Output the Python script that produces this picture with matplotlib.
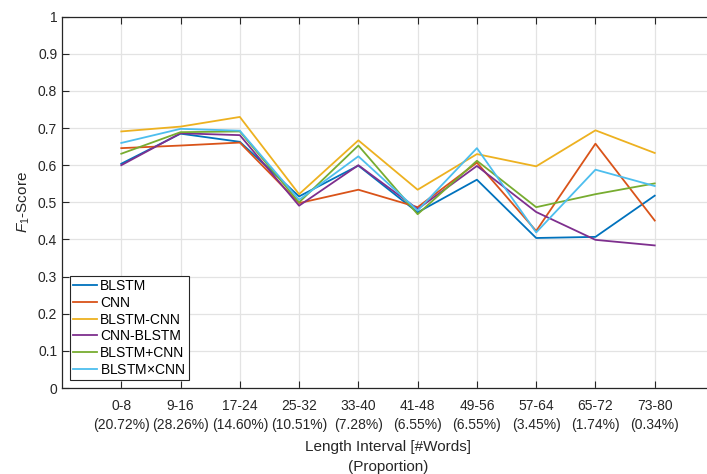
import numpy as np
import matplotlib
matplotlib.use("Agg")
import matplotlib.pyplot as plt

plt.rcParams['font.family'] = ['Liberation Sans', 'DejaVu Sans']
plt.rcParams['mathtext.fontset'] = 'custom'
plt.rcParams['mathtext.it'] = 'Liberation Sans:italic'
plt.rcParams['mathtext.rm'] = 'Liberation Sans'

intervals = ["0-8", "9-16", "17-24", "25-32", "33-40", "41-48", "49-56", "57-64", "65-72", "73-80"]
proportions = ["(20.72%)", "(28.26%)", "(14.60%)", "(10.51%)", "(7.28%)",
               "(6.55%)", "(6.55%)", "(3.45%)", "(1.74%)", "(0.34%)"]

blstm      = [0.604, 0.685, 0.663, 0.516, 0.599, 0.473, 0.561, 0.404, 0.407, 0.518]
cnn        = [0.646, 0.653, 0.661, 0.498, 0.534, 0.487, 0.607, 0.423, 0.658, 0.451]
blstm_cnn  = [0.691, 0.704, 0.730, 0.522, 0.667, 0.534, 0.630, 0.597, 0.694, 0.633]
cnn_blstm  = [0.600, 0.686, 0.681, 0.491, 0.600, 0.482, 0.598, 0.474, 0.399, 0.384]
blstm_plus = [0.631, 0.689, 0.691, 0.500, 0.653, 0.468, 0.612, 0.487, 0.522, 0.551]
blstm_x    = [0.660, 0.698, 0.693, 0.507, 0.624, 0.478, 0.646, 0.419, 0.588, 0.544]

series = [
    ("BLSTM", blstm, "#0072BD"),
    ("CNN", cnn, "#D95319"),
    ("BLSTM-CNN", blstm_cnn, "#EDB120"),
    ("CNN-BLSTM", cnn_blstm, "#7E2F8E"),
    ("BLSTM+CNN", blstm_plus, "#77AC30"),
    ("BLSTM$\\times$CNN", blstm_x, "#4DBEEE"),
]

x = np.arange(1, len(intervals) + 1)

fig = plt.figure(figsize=(7.07, 4.74), dpi=100)
ax = fig.add_axes([62 / 707, 86 / 474, (714 - 62) / 707, (388 - 16.7) / 474])

for label, vals, col in series:
    ax.plot(x, vals, color=col, linewidth=1.3, label=label)

ax.set_xlim(0, 11)
ax.set_ylim(0, 1)
ax.set_xticks(x)
ax.set_xticklabels([f"{a}\n{b}" for a, b in zip(intervals, proportions)], linespacing=1.45)
ax.set_yticks(np.arange(0, 1.01, 0.1))
ax.set_yticklabels(["0", "0.1", "0.2", "0.3", "0.4", "0.5", "0.6", "0.7", "0.8", "0.9", "1"])
ax.tick_params(axis="both", direction="in", length=5, width=0.8, colors="#262626",
               labelsize=10, labelcolor="#262626", top=True, right=False)
ax.tick_params(axis="x", pad=8)
ax.grid(True, color="#E3E3E3", linewidth=0.9)
ax.set_axisbelow(True)
for s in ["left", "bottom", "top"]:
    ax.spines[s].set_color("#262626")
    ax.spines[s].set_linewidth(0.9)
ax.spines["right"].set_visible(False)

ax.set_xlabel("Length Interval [#Words]\n(Proportion)", fontsize=11, color="#262626",
              linespacing=1.5, labelpad=6)
ax.set_ylabel("$F_1$-Score", fontsize=11, color="#262626", labelpad=4)

leg = ax.legend(loc="lower left", fontsize=10, frameon=True, fancybox=False,
                borderaxespad=0.55, handlelength=1.75, handletextpad=0.2,
                labelspacing=0.2, borderpad=0.25)
leg.get_frame().set_edgecolor("#262626")
leg.get_frame().set_linewidth(0.8)
leg.get_frame().set_alpha(1)

fig.savefig("out.png", dpi=100)
